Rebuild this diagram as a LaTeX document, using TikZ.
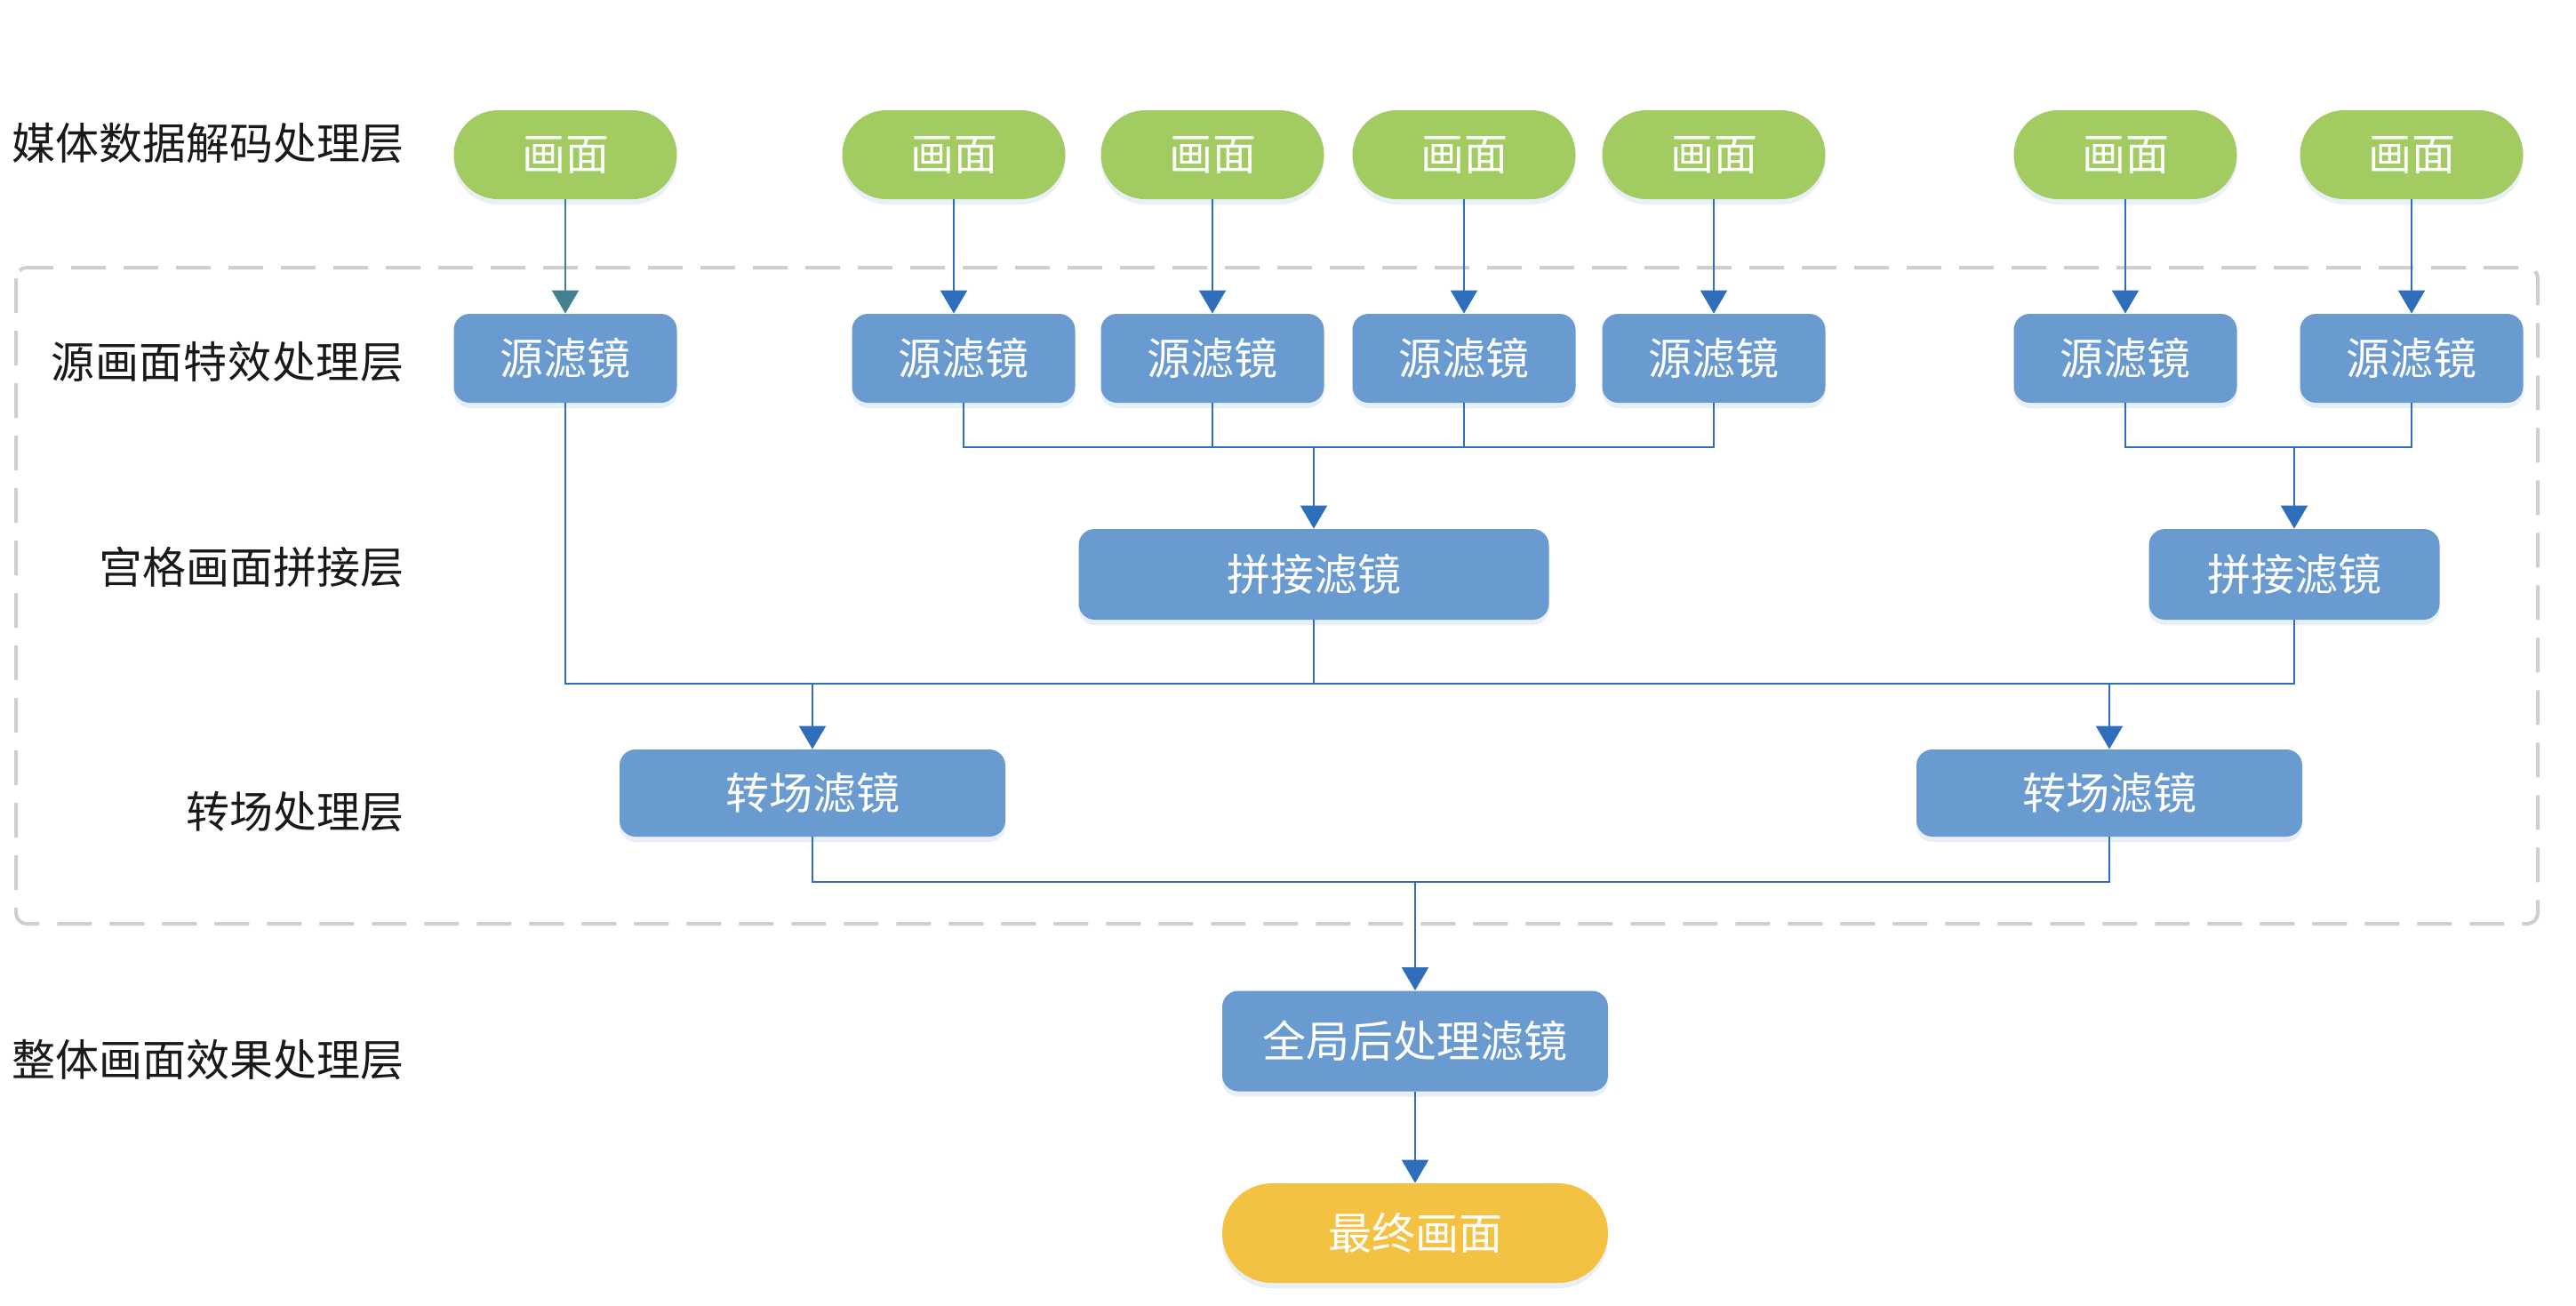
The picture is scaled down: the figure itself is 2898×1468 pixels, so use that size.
\documentclass[tikz,border=0pt]{standalone}
\usepackage{fontspec}
\newfontfamily\cjk{Noto Sans CJK SC}
\usetikzlibrary{arrows.meta,shadows}
\definecolor{gfill}{HTML}{A2CB62}
\definecolor{bfill}{HTML}{6A9BD0}
\definecolor{yfill}{HTML}{F4C242}
\definecolor{lcol}{HTML}{2F6EBB}
\definecolor{tcol}{HTML}{44808E}
\definecolor{dcol}{HTML}{CFCFCF}
\definecolor{shcol}{HTML}{A9C2E6}
\begin{document}
\begin{tikzpicture}[x=0.5pt,y=-0.5pt,
  base/.style={inner sep=0pt, text=white, font=\cjk\fontsize{24.5}{29}\selectfont,
    drop shadow={shadow xshift=0pt, shadow yshift=-3pt, opacity=0.25, fill=shcol}},
  frame/.style={base, fill=gfill, rounded corners=25pt, minimum width=125.5pt, minimum height=50pt},
  srcbox/.style={base, fill=bfill, rounded corners=9pt, minimum width=125.5pt, minimum height=50pt},
  boxw/.style={base, fill=bfill, rounded corners=9pt},
  finalbox/.style={base, fill=yfill, rounded corners=28pt, minimum width=217pt, minimum height=56pt},
  layer/.style={anchor=east, inner sep=0pt, text=black!90, font=\cjk\fontsize{24.5}{29}\selectfont},
  wire/.style={draw=lcol, line width=1pt},
  arr/.style={wire, -{Triangle[width=15pt,length=13pt]}},
  tarr/.style={draw=tcol, line width=1pt, -{Triangle[width=15pt,length=13pt]}}
]
\useasboundingbox (0,0) rectangle (2898,1468);
\fill[white] (0,0) rectangle (2898,1468);

% dashed frame
\draw[dcol, line width=2pt, dash pattern=on 19.5pt off 10pt, rounded corners=6pt] (18,301) rectangle (2855,1039);

% layer labels
\node[layer] (l1) at (455,161) {媒体数据解码处理层};
\node[layer] (l2) at (455,407) {\addfontfeature{LetterSpace=1.5}源画面特效处理层};
\node[layer] (l3) at (455,638) {宫格画面拼接层};
\node[layer] (l4) at (455,913) {转场处理层};
\node[layer] (l5) at (455,1192) {整体画面效果处理层};

% source pictures
\node[frame] (g1) at (636,174) {画面};
\node[frame] (g2) at (1073,174) {画面};
\node[frame] (g3) at (1364,174) {画面};
\node[frame] (g4) at (1647,174) {画面};
\node[frame] (g5) at (1928,174) {画面};
\node[frame] (g6) at (2391,174) {画面};
\node[frame] (g7) at (2713,174) {画面};

% source filters
\node[srcbox] (s1) at (636,403) {源滤镜};
\node[srcbox] (s2) at (1084,403) {源滤镜};
\node[srcbox] (s3) at (1364,403) {源滤镜};
\node[srcbox] (s4) at (1647,403) {源滤镜};
\node[srcbox] (s5) at (1928,403) {源滤镜};
\node[srcbox] (s6) at (2391,403) {源滤镜};
\node[srcbox] (s7) at (2713,403) {源滤镜};

% merge filters
\node[boxw, minimum width=264.5pt, minimum height=51pt] (m1) at (1478,646) {拼接滤镜};
\node[boxw, minimum width=163.5pt, minimum height=51pt] (m2) at (2581,646) {拼接滤镜};

% transition filters
\node[boxw, minimum width=217pt, minimum height=49pt] (t1) at (914,892) {转场滤镜};
\node[boxw, minimum width=217pt, minimum height=49pt] (t2) at (2373,892) {转场滤镜};

% global
\node[boxw, minimum width=217pt, minimum height=56.5pt] (f) at (1592,1171) {全局后处理滤镜};
\node[finalbox] (fin) at (1592,1387) {最终画面};

% bus coordinates
\coordinate (b1) at (0,503);
\coordinate (b2) at (0,769);
\coordinate (b3) at (0,992);

% picture -> source filter
\draw[tarr] (g1.south) -- (s1.north);
\draw[arr] (g2.south) -- (g2.south |- s2.north);
\draw[arr] (g3.south) -- (s3.north);
\draw[arr] (g4.south) -- (s4.north);
\draw[arr] (g5.south) -- (s5.north);
\draw[arr] (g6.south) -- (s6.north);
\draw[arr] (g7.south) -- (s7.north);

% source filters -> merge 1
\draw[wire] (s2.south) -- (s2.south |- b1) -- (s5.south |- b1) -- (s5.south);
\draw[wire] (s3.south) -- (s3.south |- b1);
\draw[wire] (s4.south) -- (s4.south |- b1);
\draw[arr] (m1.north |- b1) -- (m1.north);

% source filters -> merge 2
\draw[wire] (s6.south) -- (s6.south |- b1) -- (s7.south |- b1) -- (s7.south);
\draw[arr] (m2.north |- b1) -- (m2.north);

% -> transitions
\draw[wire] (s1.south) -- (s1.south |- b2) -- (m2.south |- b2) -- (m2.south);
\draw[wire] (m1.south) -- (m1.south |- b2);
\draw[arr] (t1.north |- b2) -- (t1.north);
\draw[arr] (t2.north |- b2) -- (t2.north);

% -> global
\draw[wire] (t1.south) -- (t1.south |- b3) -- (t2.south |- b3) -- (t2.south);
\draw[arr] (f.north |- b3) -- (f.north);
\draw[arr] (f.south) -- (fin.north);
\end{tikzpicture}
\end{document}
